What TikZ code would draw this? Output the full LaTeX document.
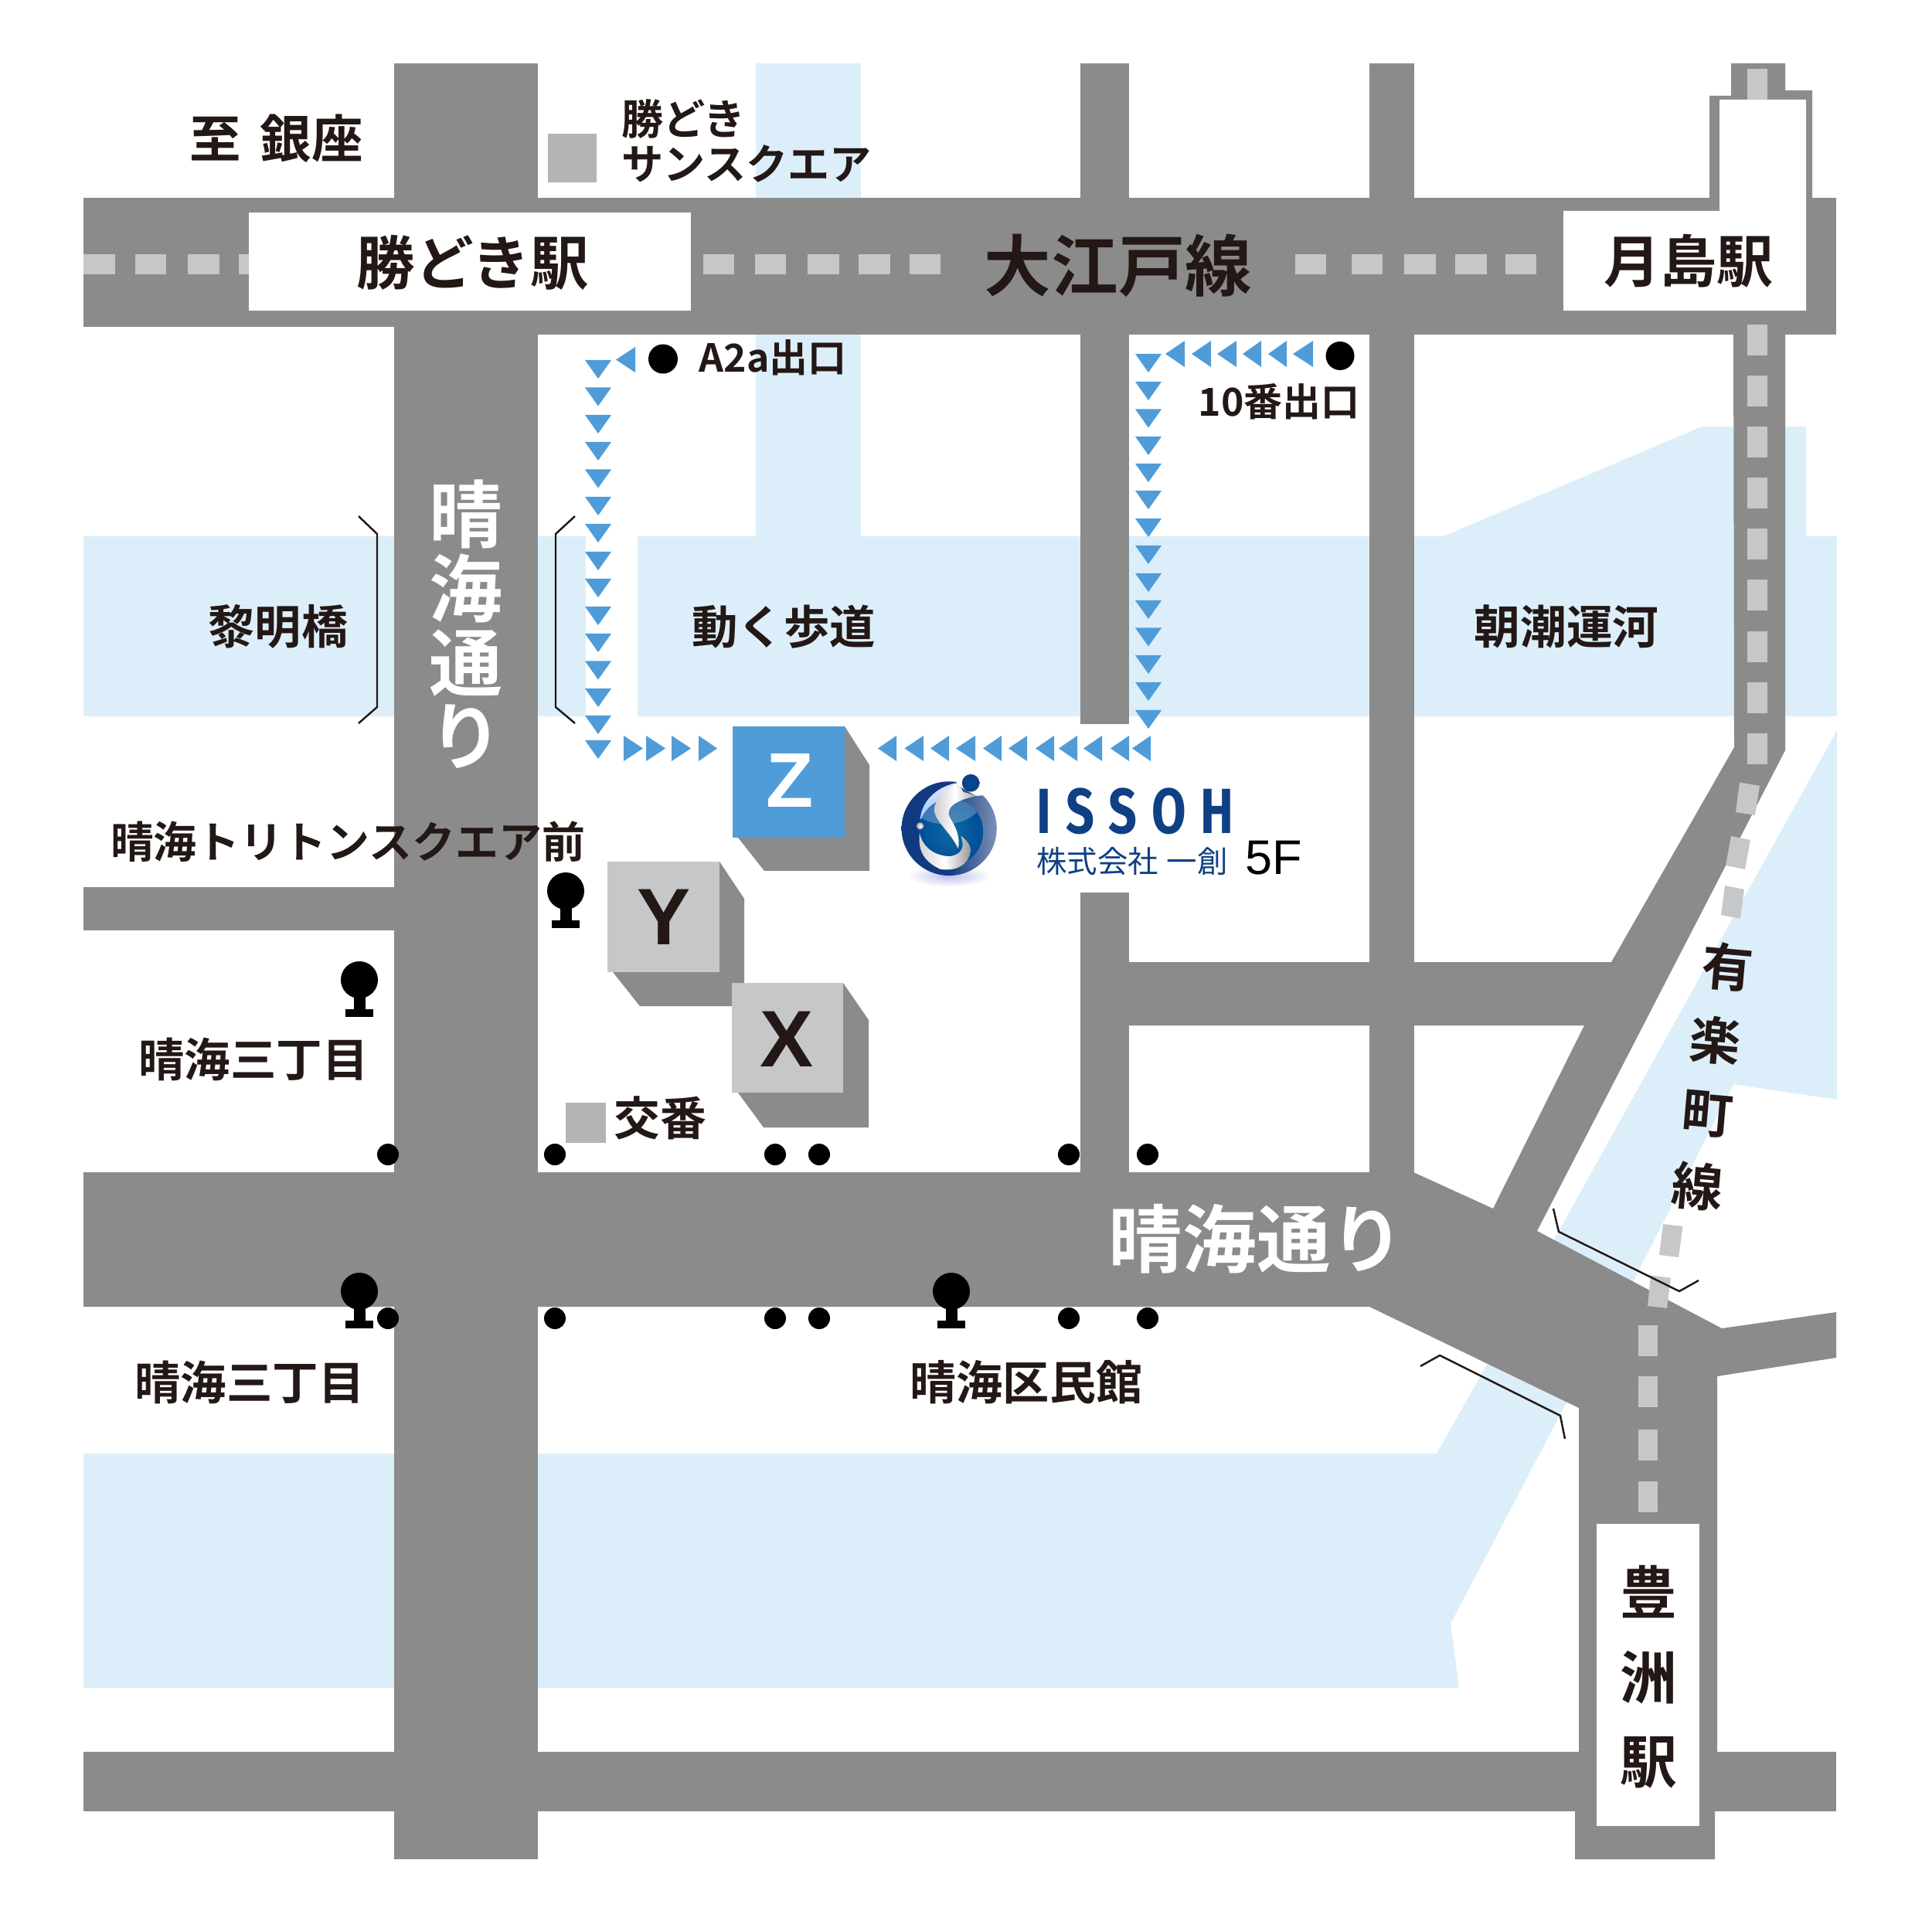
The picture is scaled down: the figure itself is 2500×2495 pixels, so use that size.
\documentclass[tikz,border=0pt]{standalone}
\usepackage{fontspec}
\newfontfamily\jpb{Noto Sans CJK JP Bold}
\newfontfamily\jpr{Noto Sans CJK JP}
\newfontfamily\arial{Liberation Sans}
\newfontfamily\issoh{Fira Sans}[FakeStretch=0.78,LetterSpace=23]
\newcommand{\fsz}[1]{\fontsize{#1}{#1}\selectfont}
\definecolor{roadc}{HTML}{8B8B8B}
\definecolor{dashc}{HTML}{C6C7C9}
\definecolor{waterc}{HTML}{DCEEF9}
\definecolor{bluec}{HTML}{4F9CD9}
\definecolor{ink}{HTML}{231815}
\definecolor{squarec}{HTML}{B4B4B5}
\definecolor{navy}{HTML}{123A80}
\definecolor{logotxt}{HTML}{0F4084}
\tikzset{
  road/.style={fill=roadc},
  water/.style={fill=waterc},
  dashbox/.style={fill=dashc},
  tri/.style={fill=bluec},
  dot/.style={fill=black},
  bridge/.style={draw=ink,line width=0.7pt},
  lab/.style={inner sep=0pt,text=ink},
  whitelab/.style={inner sep=0pt,text=white},
}
\begin{document}
\begin{tikzpicture}[x=0.01cm,y=-0.01cm]
\useasboundingbox (0,0) rectangle (2500,2495);
\fill[white] (0,0) rectangle (2500,2495);
% water
\fill[water] (978,82) rectangle (1114,694);
\fill[water] (108,694) rectangle (758,927);
\fill[water] (825,694) rectangle (2377,927);
\fill[water] (1868,694) -- (2202,552) -- (2337,552) -- (2337,694) -- cycle;
\fill[water] (2377,945) -- (2377,1423) -- (2243,1403) -- (2110,1665) -- (2005,1615) -- cycle;
\fill[water] (108,1881) -- (1859,1881) -- (1924,1766) -- (1930,1740) -- (2040,1790) -- (1904,2050) -- (1877,2101) -- (1888,2184) -- (108,2184) -- cycle;
% roads
\fill[road] (510,82) rectangle (696,2406);
\fill[road] (108,256) rectangle (2376,423);
\fill[road] (696,256) rectangle (2376,433);
\fill[road] (1398,82) rectangle (1461,937);
\fill[road] (1398,1155) rectangle (1461,1520);
\fill[road] (1772,82) rectangle (1830,1520);
\fill[road] (108,1148) rectangle (510,1204);
\fill[road] (108,2267) rectangle (2376,2344);
\fill[road] (2212,124) -- (2240,124) -- (2240,82) -- (2310,82) -- (2310,117) -- (2345,117) -- (2345,300) -- (2212,300) -- cycle;
\fill[road] (2243,420) -- (2310,420) -- (2310,971) -- (1989,1593) -- (1932,1564) -- (2050,1327) -- (1461,1327) -- (1461,1245) -- (2085,1245) -- (2244,967) -- cycle;
\fill[road] (108,1517) -- (1829,1517) -- (1932,1564) -- (1989,1593) -- (2228,1719) -- (2376,1698) -- (2376,1757) -- (2222,1781) -- (2222,2344) -- (2219,2344) -- (2219,2406) -- (2038,2406) -- (2038,2344) -- (2043,2344) -- (2043,1822) -- (1772,1691) -- (108,1691) -- cycle;
% station boxes
\fill[white] (322,275) rectangle (894,402);
\fill[white] (2225,129) -- (2337,129) -- (2337,402) -- (2023,402) -- (2023,273) -- (2225,273) -- cycle;
\fill[white] (2066,1972) rectangle (2199,2363);
% dashes
\foreach \a/\b in {108/149,175/215,243/284,309/322,910/950,977/1017,1045/1086,1111/1152,1177/1217,1676/1716,1749/1789,1817/1858,1883/1924,1948/1988}
  \fill[dashbox] (\a,329) rectangle (\b,355);
\fill[dashbox] (2261,89) rectangle (2287,129);
\foreach \k in {0,...,8}
  \fill[dashbox] (2261,420+66.1*\k) rectangle (2287,460+66.1*\k);
\fill[dashbox] (2251,1012.5) -- (2277,1017) -- (2271,1055) -- (2246,1051) -- cycle;
\fill[dashbox] (2240,1082) -- (2265,1087) -- (2258,1125) -- (2233,1120) -- cycle;
\fill[dashbox] (2232,1146) -- (2257,1151) -- (2252,1189) -- (2227,1184) -- cycle;
\fill[dashbox] (2152,1584) -- (2177.5,1587) -- (2172,1627) -- (2147,1624) -- cycle;
\fill[dashbox] (2136,1650.5) -- (2162,1653.6) -- (2157,1693) -- (2132,1690) -- cycle;
\foreach \t in {1715,1781,1850,1917}
  \fill[dashbox] (2120,\t) rectangle (2145,\t+40);
% bridges
\draw[bridge] (464,668) -- (488,691) -- (488,915) -- (464,936);
\draw[bridge] (744,668) -- (719,691) -- (719,915) -- (744,936);
\draw[bridge] (2010,1564) -- (2017,1594) -- (2173,1671) -- (2198,1657);
\draw[bridge] (1838,1768) -- (1863,1754) -- (2019,1832) -- (2025,1862);
% route triangles
\foreach \t in {466,501.5,537,572,607.5,643,678,714,749,785,820,855.5,891,926,958}
  \fill[tri] (757,\t) -- (791,\t) -- (774,\t+24) -- cycle;
\fill[tri] (822,449) -- (822,482) -- (797,465.5) -- cycle;
\foreach \a/\b in {807/832,836/861,869/894,904/928}
  \fill[tri] (\a,952) -- (\a,985) -- (\b,968.5) -- cycle;
\foreach \t in {458,494,529.5,565,600,635,671,706,742,777,812.5,848,883,919}
  \fill[tri] (1469,\t) -- (1503,\t) -- (1486,\t+24) -- cycle;
\foreach \a/\b in {1508/1533,1542/1567,1575/1600,1608/1632,1641/1665,1673/1699}
  \fill[tri] (\b,441) -- (\b,475) -- (\a,458) -- cycle;
\foreach \a/\b in {1136/1160,1170.5/1195,1204/1228,1237/1262,1272/1296,1305/1329,1340/1364,1370/1394,1402/1426,1437/1461,1465/1489}
  \fill[tri] (\b,952) -- (\b,985) -- (\a,968.5) -- cycle;
% dots
\fill[dot] (858,464.5) circle (19);
\fill[dot] (1734,460.5) circle (18.5);
\foreach \x in {502,718,1003,1060,1383,1485}{
  \fill[dot] (\x,1494) circle (14);
  \fill[dot] (\x,1706) circle (14);
}
% trees
\foreach \x/\y in {732/1153,465/1268,465/1671,1231/1671}{
  \fill[black] (\x,\y) circle (24);
  \fill[black] (\x-7.5,\y) rectangle (\x+7.5,\y+40);
  \fill[black] (\x-18,\y+38) rectangle (\x+18,\y+48);
}
% landmarks
\fill[squarec] (709,173) rectangle (772,236);
\fill[squarec] (732,1427) rectangle (784,1479);
% buildings
\fill[road] (1093,940) -- (1125,990) -- (1125,1127) -- (989,1127) -- (955,1084) -- cycle;
\fill[bluec] (948,940) rectangle (1093,1084);
\fill[road] (931,1115) -- (963,1163) -- (963,1302) -- (828,1302) -- (793,1258) -- cycle;
\fill[dashc] (786,1115) rectangle (931,1258);
\fill[road] (1091,1272) -- (1124,1320) -- (1124,1459) -- (988,1459) -- (955,1414) -- cycle;
\fill[dashc] (947,1272) rectangle (1091,1414);
\node[whitelab,font=\arial\bfseries\fsz{28.5}] (zz) at (1022,1010) {Z};
\node[lab,font=\arial\bfseries\fsz{29.5}] (yy) at (859.5,1186.5) {Y};
\node[lab,font=\arial\bfseries\fsz{29.5}] (xx) at (1018,1344.5) {X};
% logo
\begin{scope}[shift={(1140,980)},x=0.003333cm,y=-0.003333cm]
  \shade[inner color=black!25!blue!25,outer color=white] (265,462) circle[x radius=165,y radius=42];
  \shade[left color=navy,right color=navy!55!white,middle color=navy] (265,277) circle[x radius=185,y radius=183];
  \fill[white] (290,90) -- (420,90) -- (420,150) -- (395,148) -- (370,150) -- (300,110) -- cycle;
  \shade[top color=blue!10!white,bottom color=cyan!50!blue!45] (295,100) .. controls (230,110) and (160,160) .. (152,240) -- (230,260) -- (300,150) -- cycle;
  \begin{scope}
    \clip (272,290) circle[x radius=125,y radius=130];
    \shade[inner color=navy!75!cyan,outer color=cyan!50!blue!60!black] (272,290) circle[x radius=125,y radius=130];
    \fill[white,opacity=.25] (250,150) circle[x radius=150,y radius=110];
  \end{scope}
  \shade[left color=gray!40,right color=gray!70,middle color=white] (300,100) .. controls (250,120) and (205,170) .. (207,205) .. controls (210,250) and (270,290) .. (300,355) .. controls (310,310) and (290,270) .. (268,235) .. controls (250,200) and (280,170) .. (372,150) -- (320,135) -- cycle;
  \shade[left color=gray!35,right color=gray!80,middle color=white] (150,295) .. controls (145,350) and (155,400) .. (230,435) .. controls (290,445) and (340,420) .. (348,365) .. controls (350,340) and (330,320) .. (310,305) .. controls (325,345) and (320,375) .. (270,385) .. controls (220,385) and (165,360) .. (150,295) -- cycle;
  \shade[inner color=white,outer color=gray!70] (152,267) circle (14);
  \shade[inner color=cyan!50!blue!60!black,outer color=navy] (349,100) circle (34);
\end{scope}
\node[inner sep=0pt,text=logotxt,font=\issoh\bfseries\fsz{23.5}] (issohname) at (1469,1049.5) {ISSOH};
\node[inner sep=0pt,text=logotxt,font=\jpr\fsz{11.2}] (issohjp) at (1465,1115) {株式会社\hspace{3pt}一創};
\node[inner sep=0pt,text=black,font=\arial\fsz{17.9}] (fivef) at (1648,1110) {5F};
% labels
\node[lab,font=\jpb\fsz{18.9}] (ginza) at (357.5,179) {至\hspace{7pt}銀座};
\node[lab,font=\jpb\fsz{15.4},align=left] (sun) at (966,182) {勝どき\\[1pt]サンスクエア};
\node[lab,font=\jpb\fsz{21.5}] (kachidoki) at (612,340) {勝どき駅};
\node[lab,font=\jpb\fsz{24.6}] (oedo) at (1447,344) {大江戸線};
\node[lab,font=\jpb\fsz{20.8}] (tsukishima) at (2185,338) {月島駅};
\node[lab,font=\jpb\fsz{14.2}] (a2a) at (1000,463) {A2a出口};
\node[lab,font=\jpb\fsz{14.2}] (ten) at (1655,520) {10番出口};
\node[whitelab,font=\jpb\fontsize{27}{27.2}\selectfont,align=center] (harumiv) at (603,808) {晴\\海\\通\\り};
\node[lab,font=\jpb\fsz{17.1}] (reimei) at (360,811) {黎明橋};
\node[lab,font=\jpb\fsz{16.9}] (ugoku) at (1014,811) {動く歩道};
\node[lab,font=\jpb\fsz{17}] (asashio) at (2027,811) {朝潮運河};
\node[lab,font=\jpb\fsz{15.9}] (triton) at (450,1089) {晴海トリトンスクエア前};
\node[lab,font=\jpb\fsz{16.9}] (h3a) at (328,1371) {晴海三丁目};
\node[lab,font=\jpb\fsz{16.9}] (h3b) at (323,1789) {晴海三丁目};
\node[lab,font=\jpb\fsz{17.1}] (kumin) at (1328,1789) {晴海区民館};
\node[lab,font=\jpb\fsz{17}] (koban) at (854.5,1447) {交番};
\node[whitelab,font=\jpb\fsz{27.2}] (harumih) at (1626,1603) {晴海通り};
\node[lab,font=\jpb\fsz{18.8},rotate=-5] (y1) at (2236,1251) {有};
\node[lab,font=\jpb\fsz{18.8},rotate=-5] (y2) at (2220,1346) {楽};
\node[lab,font=\jpb\fsz{18.8},rotate=-5] (y3) at (2209,1442) {町};
\node[lab,font=\jpb\fsz{18.8},rotate=-5] (y4) at (2197,1535) {線};
\node[lab,font=\jpb\fontsize{21}{31}\selectfont,align=center] (toyosu) at (2133,2170) {豊\\洲\\駅};
\end{tikzpicture}
\end{document}
